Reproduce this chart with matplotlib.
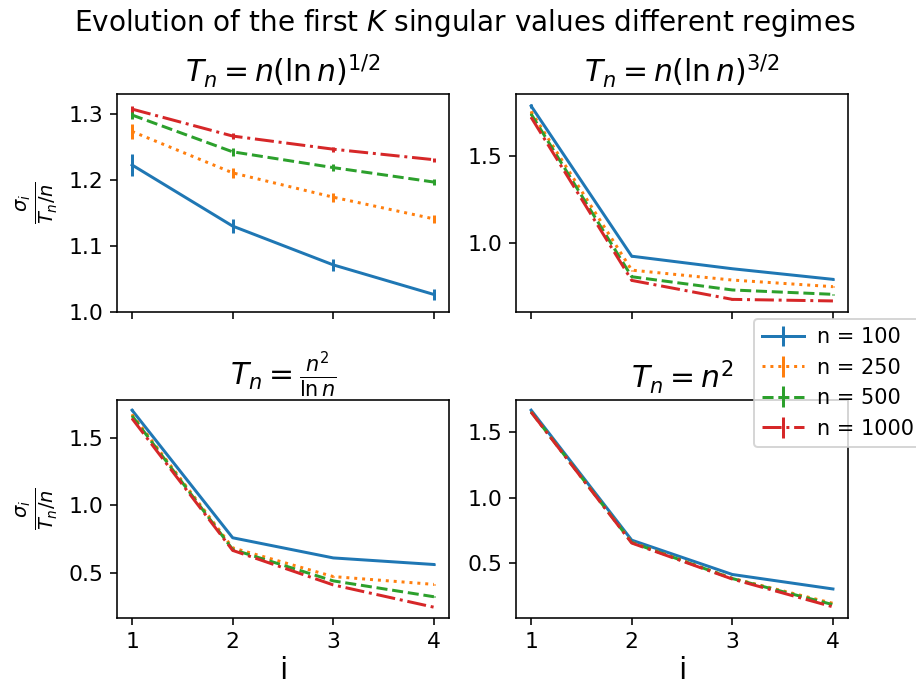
import matplotlib
matplotlib.use("Agg")
import matplotlib.pyplot as plt
import numpy as np

i_vals = [1, 2, 3, 4]
labels = ["n = 100", "n = 250", "n = 500", "n = 1000"]
titles = [r"$T_n = n(\ln n)^{1/2}$", r"$T_n = n(\ln n)^{3/2}$",
          r"$T_n = \frac{n^2}{\ln n}$", r"$T_n = n^2$"]

# panel 1: T_n = n (ln n)^{1/2}
p1_mean = [[1.223, 1.130, 1.071, 1.026],
           [1.274, 1.211, 1.174, 1.141],
           [1.299, 1.243, 1.219, 1.197],
           [1.308, 1.267, 1.247, 1.231]]
p1_err = [[0.017, 0.011, 0.009, 0.008],
          [0.012, 0.008, 0.007, 0.006],
          [0.006, 0.006, 0.005, 0.005],
          [0.005, 0.004, 0.004, 0.003]]
# panel 2: T_n = n (ln n)^{3/2}
p2_mean = [[1.790, 0.927, 0.855, 0.794],
           [1.758, 0.847, 0.790, 0.752],
           [1.744, 0.809, 0.733, 0.708],
           [1.725, 0.788, 0.679, 0.670]]
p2_err = [[0.010, 0.004, 0.003, 0.003],
          [0.006, 0.003, 0.002, 0.002],
          [0.004, 0.002, 0.002, 0.002],
          [0.003, 0.002, 0.001, 0.001]]
# panel 3: T_n = n^2 / ln n
p3_mean = [[1.709, 0.759, 0.609, 0.560],
           [1.677, 0.684, 0.470, 0.412],
           [1.667, 0.672, 0.438, 0.320],
           [1.647, 0.665, 0.408, 0.242]]
p3_err = [[0.006, 0.003, 0.003, 0.003],
          [0.004, 0.002, 0.002, 0.002],
          [0.003, 0.002, 0.002, 0.002],
          [0.002, 0.001, 0.001, 0.001]]
# panel 4: T_n = n^2
p4_mean = [[1.670, 0.674, 0.411, 0.300],
           [1.657, 0.658, 0.382, 0.190],
           [1.657, 0.656, 0.380, 0.180],
           [1.655, 0.652, 0.376, 0.163]]
p4_err = [[0.004, 0.002, 0.002, 0.002],
          [0.003, 0.002, 0.001, 0.001],
          [0.002, 0.001, 0.001, 0.001],
          [0.002, 0.001, 0.001, 0.001]]

means = [p1_mean, p2_mean, p3_mean, p4_mean]
errs = [p1_err, p2_err, p3_err, p4_err]
ylims = [(1.0, 1.331), (0.609, 1.859), (0.164, 1.784), (0.08, 1.747)]
yticks = [[1.0, 1.1, 1.2, 1.3], [1.0, 1.5], [0.5, 1.0, 1.5], [0.5, 1.0, 1.5]]
styles = ["-", ":", "--", "-."]
colors = ["#1f77b4", "#ff7f0e", "#2ca02c", "#d62728"]

dpi = 143.3
fig, axes = plt.subplots(2, 2, figsize=(916 / dpi, 688 / dpi), dpi=dpi, sharex=True)
fig.subplots_adjust(left=0.1277, right=0.9258, top=0.8634, bottom=0.1022,
                    wspace=0.202, hspace=0.407)

handles = []
for k, ax in enumerate(axes.flat):
    for s in range(4):
        h = ax.errorbar(i_vals, means[k][s], yerr=errs[k][s], linestyle=styles[s],
                        color=colors[s], label=labels[s])
        if k == 0:
            handles.append(h)
    ax.set_title(titles[k], fontsize=15)
    ax.set_ylim(*ylims[k])
    ax.set_yticks(yticks[k])
    ax.set_xticks(i_vals)
    ax.tick_params(labelsize=11)

for ax in axes[:, 0]:
    ax.set_ylabel(r"$\frac{\sigma_i}{T_n/n}$", fontsize=14)
for ax in axes[1, :]:
    ax.set_xlabel("i", fontsize=15, labelpad=2)

fig.legend(handles, labels, loc="upper left", borderaxespad=0,
           bbox_to_anchor=(754 / 916, 1 - 319 / 688), fontsize=10.5,
           handletextpad=0.6)
fig.suptitle(r"Evolution of the first $K$ singular values different regimes",
             fontsize=14, x=0.507, y=0.99)

fig.savefig("out.png", dpi=dpi)
